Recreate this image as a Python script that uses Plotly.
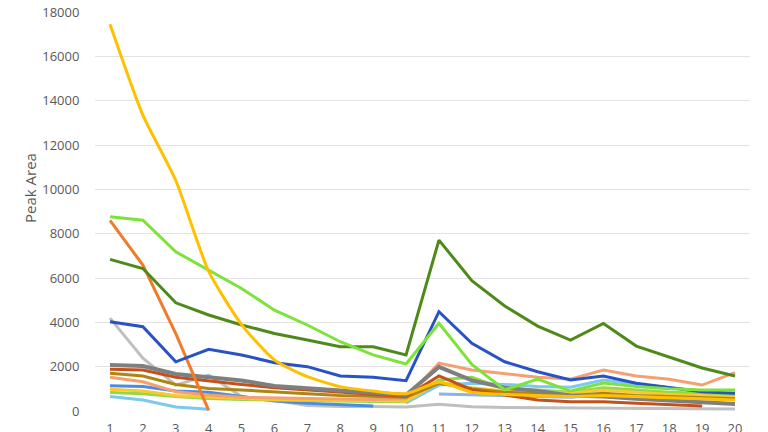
import plotly.graph_objects as go

x = list(range(1, 21))

yellow_big = [17450, 13350, 10400, 6300, 3900, 2300, 1550, 1100, 900, 780, 1300, 850, 750, 700, 650, 700, 650, 600, 550, 500]
orange = [8600, 6580, 3490, 30]
dark_green = [6840, 6430, 4880, 4330, 3880, 3500, 3200, 2900, 2900, 2530, 7710, 5880, 4740, 3830, 3200, 3950, 2930, 2450, 1940, 1580]
lime = [8760, 8610, 7180, 6360, 5530, 4550, 3880, 3125, 2530, 2120, 3960, 2100, 950, 1440, 900, 1260, 1100, 1000, 950, 950]
dark_blue = [4030, 3800, 2220, 2780, 2530, 2180, 2000, 1580, 1520, 1370, 4480, 3050, 2220, 1770, 1400, 1580, 1250, 1070, 870, 800]
light_gray = [4190, 2380, 1170, 1620, 650, 480, 250, 200, 200, 180, 300, 190, 160, 150, 130, 120, 110, 100, 95, 90]
dark_gray = [2070, 2030, 1670, 1520, 1380, 1130, 1020, 900, 820, 720, 1990, 1380, 1050, 900, 700, 650, 550, 480, 400, 320]
brown = [1880, 1850, 1520, 1350, 1200, 1050, 950, 820, 750, 650, 1580, 960, 720, 500, 420, 420, 350, 300, 225]
olive = [1700, 1580, 1200, 1020, 950, 850, 780, 700, 650, 620, 1250, 1000, 850, 780, 700, 800, 700, 650, 600, 550]
salmon = [1520, 1320, 870, 720, 620, 580, 560, 540, 520, 550, 2160, 1850, 1670, 1520, 1440, 1850, 1580, 1430, 1170, 1730]
mid_blue = [1140, 1100, 900, 850, 650, 450, 350, 300, 220]
sky_blue = [None] * 10 + [770, 720, 700, 650, 620, 720, 680, 620, 550, 530]
yellow_small = [980, 900, 700, 620, 560, 520, 500, 480, 460, 450, 1310, 1050, 900, 850, 800, 950, 850, 750, 700, 620]
lime_small = [830, 780, 650, 560, 520, 490, 470, 450, 430, 420, 1400, 1520, 1000, 950, 850, 1050, 950, 850, 800, 700]
light_blue = [650, 500, 180, 80, None, None, None, None, None, 360, 1170, 1250, 1200, 1100, 1070, 1400, 1200, 1050, 900, 650]

y_ticks = list(range(0, 18001, 2000))

series = [
    ("Light gray", light_gray, "#BFBFBF", 3),
    ("Light blue", light_blue, "#7CC8F0", 3),
    ("Mid blue", mid_blue, "#4A8DE0", 3),
    ("Sky blue", sky_blue, "#8AB4E8", 3),
    ("Lime small", lime_small, "#8FD94A", 3),
    ("Yellow small", yellow_small, "#FFC72C", 3),
    ("Salmon", salmon, "#F4A070", 3),
    ("Olive", olive, "#AD8612", 3),
    ("Brown", brown, "#C5511A", 3),
    ("Dark gray", dark_gray, "#7F7F7F", 4),
    ("Orange", orange, "#F07B2A", 3),
    ("Dark blue", dark_blue, "#2753C4", 3),
    ("Dark green", dark_green, "#4E8A1A", 3),
    ("Lime", lime, "#7DE33A", 3),
    ("Yellow big", yellow_big, "#FFC000", 3),
]

fig = go.Figure()
for name, vals, color, w in series:
    shape = "spline" if name == "Yellow big" else "linear"
    fig.add_trace(go.Scatter(
        x=x[:len(vals)], y=vals, mode="lines", name=name,
        line=dict(color=color, width=w, shape=shape, smoothing=0.6),
        connectgaps=False,
    ))

L, R, T, B = 95, 18, 12, 21
fig.update_layout(
    width=768, height=432,
    margin=dict(l=L, r=R, t=T, b=B),
    paper_bgcolor="white", plot_bgcolor="white",
    showlegend=False,
    font=dict(family="Open Sans", size=13, color="#595959"),
)
fig.update_xaxes(
    range=[0.544, 20.456], tickmode="array", tickvals=x,
    ticktext=[str(v) for v in x], showgrid=False, zeroline=False,
    showline=False, automargin=False, ticks="outside", ticklen=5,
    tickcolor="rgba(0,0,0,0)", tickfont=dict(size=13, color="#595959"),
)
fig.update_yaxes(
    range=[0, 18000], tickmode="array", tickvals=y_ticks,
    ticktext=[str(v) for v in y_ticks],
    showgrid=True, gridcolor="#E3E3E3", gridwidth=1, zeroline=False,
    showline=False, automargin=False, ticks="outside", ticklen=12,
    tickcolor="rgba(0,0,0,0)", tickfont=dict(size=13, color="#595959"),
)
fig.add_annotation(
    text="Peak Area", xref="paper", yref="paper",
    x=(30 - L) / (768 - L - R), y=1 - (188 - T) / (432 - T - B),
    xanchor="center", yanchor="middle",
    showarrow=False, textangle=-90, font=dict(size=15, color="#595959"),
)

fig.write_html("out.html")
